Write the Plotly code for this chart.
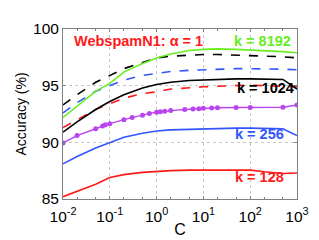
import plotly.graph_objects as go

C = [0.01, 0.02, 0.05, 0.1, 0.2, 0.5, 1, 2, 5, 10, 20, 50, 100, 200, 500, 1000]

green_8192 = [92.2, 93.2, 94.5, 95.2, 96.2, 96.95, 97.45, 97.8, 98.1, 98.2, 98.25, 98.2, 98.15, 98.1, 98.0, 97.9]
black_dash = [93.3, 94.2, 95.3, 95.9, 96.5, 97.05, 97.45, 97.6, 97.7, 97.75, 97.75, 97.7, 97.7, 97.6, 97.55, 97.45]
blue_dash = [92.6, 93.5, 94.5, 95.0, 95.5, 95.9, 96.1, 96.25, 96.35, 96.4, 96.45, 96.5, 96.5, 96.5, 96.45, 96.4]
black_1024 = [90.9, 91.8, 92.9, 93.6, 94.2, 94.8, 95.1, 95.3, 95.45, 95.5, 95.55, 95.6, 95.6, 95.6, 95.55, 94.7]
red_dash = [91.3, 92.0, 92.9, 93.4, 93.9, 94.3, 94.45, 94.7, 94.85, 94.9, 94.95, 95.0, 95.05, 95.0, 94.95, 94.9]
blue_256 = [88.1, 88.75, 89.5, 90.0, 90.45, 90.8, 91.0, 91.1, 91.15, 91.2, 91.2, 91.25, 91.25, 91.25, 91.2, 90.6]
red_128 = [85.2, 85.7, 86.3, 86.9, 87.15, 87.35, 87.45, 87.5, 87.55, 87.55, 87.6, 87.55, 87.55, 87.4, 87.25, 87.3]

C_mag = [0.01, 0.02, 0.05, 0.07, 0.08, 0.1, 0.2, 0.3, 0.5, 0.7, 1, 1.2, 1.5, 2, 4, 6, 8, 10, 15, 20, 50, 100, 500, 1000]
magenta = [89.95, 90.6, 91.2, 91.45, 91.55, 91.65, 92.0, 92.2, 92.4, 92.55, 92.65, 92.7, 92.75, 92.8,
           92.9, 92.95, 92.97, 93.0, 93.02, 93.05, 93.07, 93.08, 93.1, 93.3]

RED = "#ff1a1a"
BLUE = "#3355ff"
GREEN = "#66ee22"
MAG = "#b845f0"
BLACK = "#000000"

fig = go.Figure()

def add(y, color, dash="solid", x=C):
    fig.add_trace(go.Scatter(x=x, y=y, mode="lines",
                             line=dict(color=color, width=1.6, dash=dash),
                             showlegend=False))

add(black_dash, BLACK, "dash")
add(blue_dash, BLUE, "dash")
add(red_dash, RED, "dash")
add(green_8192, GREEN)
add(black_1024, BLACK)
add(blue_256, BLUE)
add(red_128, RED)
fig.add_trace(go.Scatter(x=C_mag, y=magenta, mode="lines+markers",
                         line=dict(color=MAG, width=1.4),
                         marker=dict(color=MAG, size=5),
                         showlegend=False))

FONT = "Liberation Sans, Arial"
bold = dict(family=FONT, size=14.5)
fig.add_annotation(x=0.04, y=0.93, xref="paper", yref="paper", xanchor="left", yanchor="middle",
                   text="<b>WebspamN1:</b> <b>α = 1</b>", showarrow=False,
                   font=dict(color=RED, **bold))
fig.add_annotation(x=0.985, y=0.93, xref="paper", yref="paper", xanchor="right", yanchor="middle",
                   text="<b>k = 8192</b>", showarrow=False, font=dict(color=GREEN, **bold))
fig.add_annotation(x=0.995, y=0.655, xref="paper", yref="paper", xanchor="right", yanchor="middle",
                   text="<b>k = 1024</b>", showarrow=False, font=dict(color=BLACK, **bold))
fig.add_annotation(x=0.955, y=0.385, xref="paper", yref="paper", xanchor="right", yanchor="middle",
                   text="<b>k = 256</b>", showarrow=False, font=dict(color=BLUE, **bold))
fig.add_annotation(x=0.955, y=0.13, xref="paper", yref="paper", xanchor="right", yanchor="middle",
                   text="<b>k = 128</b>", showarrow=False, font=dict(color=RED, **bold))

axis_common = dict(showline=True, mirror="allticks", linecolor="#808080", linewidth=1,
                   ticks="inside", ticklen=3, tickcolor="#808080",
                   showgrid=True, gridcolor="#c8c8c8", griddash="dot", gridwidth=1,
                   zeroline=False, tickfont=dict(family=FONT, size=15.5, color="black"))

fig.update_xaxes(type="log", range=[-2, 3],
                 tickvals=[0.01, 0.1, 1, 10, 100, 1000],
                 ticktext=["10<sup>-2</sup>", "10<sup>-1</sup>", "10<sup>0</sup>",
                           "10<sup>1</sup>", "10<sup>2</sup>", "10<sup>3</sup>"],
                 ticklabelstandoff=3,
                 minor=dict(ticks="inside", ticklen=2, tickcolor="#808080", showgrid=False),
                 title=dict(text="C", font=dict(family=FONT, size=16, color="black"), standoff=0),
                 **axis_common)
fig.update_yaxes(range=[85, 100], tickvals=[85, 90, 95, 100],
                 title=dict(text="Accuracy (%)", font=dict(family=FONT, size=14, color="black"), standoff=3),
                 **axis_common)

fig.update_layout(width=319, height=240, margin=dict(l=48, r=30, t=17, b=41),
                  plot_bgcolor="white", paper_bgcolor="white")

fig.write_html("out.html")
